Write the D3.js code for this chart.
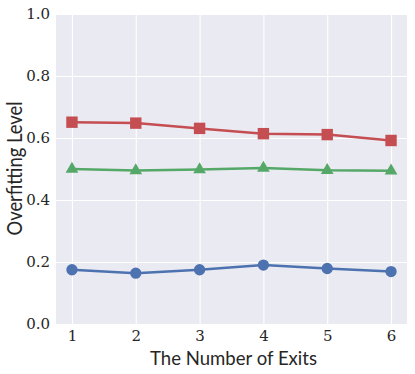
<!DOCTYPE html>
<html><head><meta charset="utf-8">
<script src="https://cdn.jsdelivr.net/npm/d3@7"></script>
<style>body{margin:0;background:#fff}svg{display:block}
.tick text{font-family:"DejaVu Serif","Liberation Serif",serif !important;}
</style>
</head><body>
<script>
const exits = [1, 2, 3, 4, 5, 6];
const redSquares = [0.651, 0.648, 0.631, 0.614, 0.611, 0.592];
const greenTriangles = [0.500, 0.495, 0.498, 0.503, 0.496, 0.494];
const blueCircles = [0.175, 0.164, 0.175, 0.190, 0.179, 0.169];
const yTicks = [0.0, 0.2, 0.4, 0.6, 0.8, 1.0];
const xLabel = "The Number of Exits";
const yLabel = "Overfitting Level";

const W = 415, H = 374;
const m = {l: 56, r: 8, t: 14, b: 50};
const svg = d3.select("body").append("svg").attr("width", W).attr("height", H);
const x = d3.scaleLinear().domain([0.75, 6.25]).range([m.l, W - m.r]);
const y = d3.scaleLinear().domain([0, 1]).range([H - m.b, m.t]);

svg.append("rect").attr("x", m.l).attr("y", m.t)
  .attr("width", W - m.r - m.l).attr("height", H - m.b - m.t).attr("fill", "#EAEAF2");

const serif = "DejaVu Serif";
const sans = "Lato";

const gx = svg.append("g").attr("transform", `translate(0,${H - m.b})`)
  .call(d3.axisBottom(x).tickValues(exits).tickFormat(d3.format("d")).tickSize(-(H - m.b - m.t)).tickPadding(6.5));
const gy = svg.append("g").attr("transform", `translate(${m.l},0)`)
  .call(d3.axisLeft(y).tickValues(yTicks).tickFormat(d3.format(".1f")).tickSize(-(W - m.r - m.l)).tickPadding(6));
[gx, gy].forEach(g => {
  g.attr("font-family", serif).attr("font-size", 15);
  g.select(".domain").remove();
  g.selectAll(".tick line").attr("stroke", "#fff").attr("stroke-width", 1.1);
  g.selectAll(".tick text").attr("fill", "#262626").attr("font-family", serif).attr("font-size", 15)
    .style("font-weight", 300);
});

const series = [
  {vals: blueCircles, color: "#4C72B0", sym: d3.symbolCircle, size: 100},
  {vals: greenTriangles, color: "#55A868", sym: d3.symbolTriangle, size: 70},
  {vals: redSquares, color: "#C44E52", sym: d3.symbolSquare, size: 130}
];
const line = d3.line().x((d, i) => x(exits[i])).y(d => y(d));
series.forEach(s => {
  svg.append("path").datum(s.vals).attr("d", line).attr("fill", "none")
    .attr("stroke", s.color).attr("stroke-width", 2.5).attr("stroke-linejoin", "round");
  svg.selectAll(null).data(s.vals).enter().append("path")
    .attr("transform", (d, i) => `translate(${x(exits[i])},${y(d)})`)
    .attr("d", d3.symbol().type(s.sym).size(s.size)).attr("fill", s.color);
});

svg.append("text").attr("x", 233.5).attr("y", 365)
  .attr("text-anchor", "middle").attr("fill", "#262626")
  .attr("textLength", 167).attr("lengthAdjust", "spacingAndGlyphs")
  .style("font-family", sans).style("font-size", "20px").text(xLabel);
svg.append("text").attr("transform", `translate(22,168.5) rotate(-90)`)
  .attr("text-anchor", "middle").attr("fill", "#262626")
  .attr("textLength", 134).attr("lengthAdjust", "spacingAndGlyphs")
  .style("font-family", sans).style("font-size", "21px").text(yLabel);
</script>
</body></html>
